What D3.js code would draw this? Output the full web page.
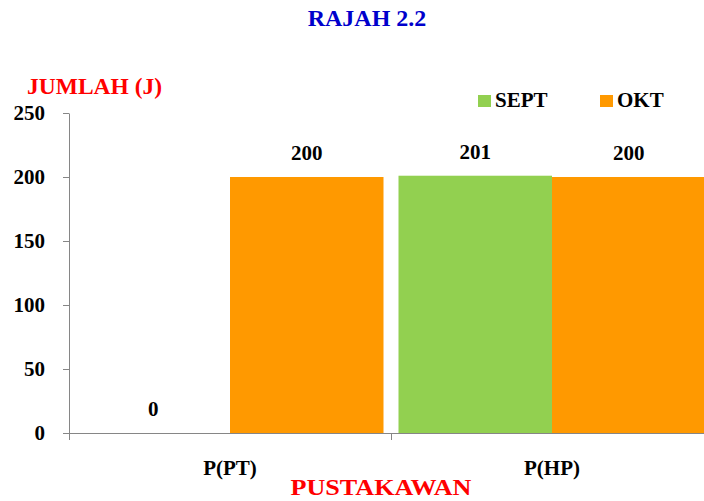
<!DOCTYPE html>
<html><head><meta charset="utf-8">
<script src="https://cdn.jsdelivr.net/npm/d3@7"></script>
<style>html,body{margin:0;padding:0;background:#fff;overflow:hidden}svg{display:block}</style>
</head><body>
<svg id="c" width="704" height="501"></svg>
<script>
const categories = ["P(PT)", "P(HP)"];
const seriesNames = ["SEPT", "OKT"];
const septValues = [0, 201];
const oktValues = [200, 200];
const yTicks = [0, 50, 100, 150, 200, 250];
const colors = {SEPT: "#92D050", OKT: "#FF9900"};

const FONT = '"Liberation Serif"';
const svg = d3.select("#c");
const x0 = d3.scaleBand().domain(categories).range([69, 713]);
const x1 = d3.scaleBand().domain(seriesNames).range([7.5, x0.bandwidth() - 7.5]);
const y = d3.scaleLinear().domain([0, 250]).range([433, 113]);

const data = categories.map((c, i) => ({cat: c, vals: [{s: "SEPT", v: septValues[i]}, {s: "OKT", v: oktValues[i]}]}));

function styleText(sel, size, color) {
  sel.style("font-family", FONT).style("font-weight", "bold").style("font-size", size + "px").style("fill", color);
}

// bars (clipped at the right edge like the reference)
svg.append("clipPath").attr("id", "plotclip").append("rect").attr("x", 0).attr("y", 0).attr("width", 704).attr("height", 501);
const g = svg.append("g").attr("clip-path", "url(#plotclip)");
const groups = g.selectAll("g.cat").data(data).join("g").attr("class", "cat").attr("transform", d => `translate(${x0(d.cat)},0)`);
groups.selectAll("rect").data(d => d.vals).join("rect")
  .attr("x", d => x1(d.s)).attr("width", x1.bandwidth())
  .attr("y", d => y(d.v)).attr("height", d => y(0) - y(d.v))
  .attr("fill", d => colors[d.s]);
groups.selectAll("text").data(d => d.vals).join("text")
  .attr("x", d => x1(d.s) + x1.bandwidth() / 2).attr("y", d => y(d.v) - 17)
  .attr("text-anchor", "middle").text(d => d.v)
  .call(styleText, 21, "#000");

// y axis
const yAxis = svg.append("g").attr("transform", "translate(69,0)")
  .call(d3.axisLeft(y).tickValues(yTicks).tickSize(6).tickPadding(18).tickSizeOuter(0));
yAxis.attr("font-family", null).attr("font-size", null);
yAxis.select(".domain").attr("stroke", "#868686");
yAxis.selectAll(".tick line").attr("stroke", "#868686");
yAxis.selectAll(".tick text").attr("dy", "0.3em").call(styleText, 21, "#000");

// x axis
const xAxis = svg.append("g").attr("transform", "translate(0,433)")
  .call(d3.axisBottom(x0).tickSize(0).tickPadding(35));
xAxis.attr("font-family", null).attr("font-size", null);
xAxis.select(".domain").attr("stroke", "#868686");
xAxis.selectAll(".tick text").attr("dy", 0).attr("y", 42).call(styleText, 21, "#000");
// category separator ticks
const seps = categories.map(c => x0(c)).concat([x0.range()[1]]);
svg.append("g").selectAll("line").data(seps).join("line")
  .attr("x1", d => d + 0.5).attr("x2", d => d + 0.5).attr("y1", 433).attr("y2", 440)
  .attr("stroke", "#868686");

// titles
svg.append("text").attr("x", 367).attr("y", 26).attr("text-anchor", "middle")
  .text("RAJAH 2.2").call(styleText, 24, "#0000CC");
svg.append("text").attr("x", 27).attr("y", 94)
  .text("JUMLAH (J)").call(styleText, 23.5, "#FF0000");
svg.append("text").attr("x", 381).attr("y", 495).attr("text-anchor", "middle")
  .attr("textLength", 181).attr("lengthAdjust", "spacingAndGlyphs")
  .text("PUSTAKAWAN").call(styleText, 24, "#FF0000");

// legend
const legX = [478, 600];
const leg = svg.append("g").selectAll("g").data(seriesNames).join("g")
  .attr("transform", (d, i) => `translate(${legX[i]},0)`);
leg.append("rect").attr("x", 0).attr("y", 95).attr("width", 13).attr("height", 12).attr("fill", d => colors[d]);
leg.append("text").attr("x", 17).attr("y", 107).text(d => d).call(styleText, 21, "#000");
</script>
</body></html>
